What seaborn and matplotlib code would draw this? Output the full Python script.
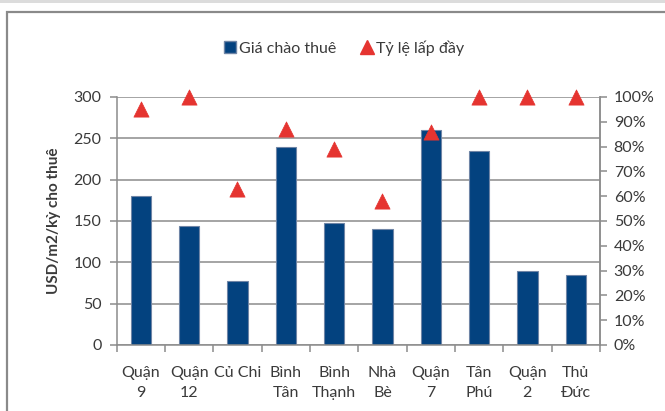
import matplotlib
matplotlib.use("Agg")
import matplotlib.pyplot as plt
from matplotlib.patches import Rectangle
from matplotlib.lines import Line2D
from matplotlib.ticker import FixedLocator, PercentFormatter
import seaborn as sns
import pandas as pd

# Districts, asking rent (USD/m2/period) and occupancy rate (%)
districts = ["Quận\n9", "Quận\n12", "Củ Chi", "Bình\nTân", "Bình\nThạnh",
             "Nhà\nBè", "Quận\n7", "Tân\nPhú", "Quận\n2", "Thủ\nĐức"]
asking_rent = [180, 144, 77, 240, 148, 140, 260, 235, 90, 85]
occupancy = [95, 100, 63, 87, 79, 58, 86, 100, 100, 100]

bar_label = "Giá chào thuê"
marker_label = "Tỷ lệ lấp đầy"
y_label = "USD/m2/kỳ cho thuê"

BAR_COLOR = "#03427F"
TRI_COLOR = "#E53430"
AXIS_GRAY = "#8C8C8C"
TEXT_COLOR = "#3A3A3A"
FS = 11.5

sns.set_theme(style="white")
plt.rcParams["font.family"] = ["Lato", "DejaVu Sans"]

df = pd.DataFrame({"district": districts, "rent": asking_rent, "occ": occupancy})

fig = plt.figure(figsize=(6.65, 4.11), dpi=100)
ax = fig.add_axes([0.1755, 0.1606, 0.902 - 0.1755, 0.764 - 0.1606])

sns.barplot(data=df, x="district", y="rent", order=districts, color=BAR_COLOR,
            saturation=1, width=0.42, edgecolor="#6F85A6", linewidth=0.8, ax=ax)

ax.set_ylim(0, 300)
ax.set_xlim(-0.5, len(districts) - 0.5)
ax.set_yticks(range(0, 301, 50))
ax.yaxis.grid(True, color=AXIS_GRAY, linewidth=1.1)
ax.set_axisbelow(True)
ax.set_xlabel("")
ax.set_ylabel(y_label, fontsize=11, fontweight="bold", color=TEXT_COLOR, labelpad=9)

for side in ("left", "bottom", "right"):
    ax.spines[side].set_visible(True)
    ax.spines[side].set_color(AXIS_GRAY)
    ax.spines[side].set_linewidth(1.1)
ax.spines["top"].set_visible(False)

ax.tick_params(axis="y", direction="out", length=5, width=1.1, color=AXIS_GRAY,
               labelsize=FS, labelcolor=TEXT_COLOR, pad=6, left=True)
ax.tick_params(axis="x", which="major", length=0, labelsize=FS,
               labelcolor=TEXT_COLOR, pad=15)
ax.xaxis.set_minor_locator(FixedLocator([i - 0.5 for i in range(len(districts) + 1)]))
ax.tick_params(axis="x", which="minor", direction="out", length=5, width=1.1,
               color=AXIS_GRAY, bottom=True)
for lbl in ax.get_xticklabels():
    lbl.set_linespacing(1.6)

# Occupancy on the secondary axis
ax2 = ax.twinx()
sns.scatterplot(data=df, x="district", y="occ", marker="^", s=120,
                color=TRI_COLOR, edgecolor=TRI_COLOR, linewidth=0.5,
                ax=ax2, zorder=5, clip_on=False)
ax2.set_ylim(0, 100)
ax2.set_yticks(range(0, 101, 10))
ax2.yaxis.set_major_formatter(PercentFormatter(decimals=0))
ax2.set_ylabel("")
ax2.set_xlim(-0.5, len(districts) - 0.5)
for side in ("left", "top", "bottom"):
    ax2.spines[side].set_visible(False)
ax2.spines["right"].set_color(AXIS_GRAY)
ax2.spines["right"].set_linewidth(1.1)
ax2.tick_params(axis="y", direction="out", length=5, width=1.1, color=AXIS_GRAY,
                labelsize=FS, labelcolor=TEXT_COLOR, pad=5, right=True)
ax2.grid(False)

handles = [
    Line2D([], [], marker="s", linestyle="none", markersize=9,
           markerfacecolor=BAR_COLOR, markeredgecolor="#6F85A6"),
    Line2D([], [], marker="^", linestyle="none", markersize=10,
           markerfacecolor=TRI_COLOR, markeredgecolor=TRI_COLOR),
]
fig.legend(handles, [bar_label, marker_label], loc="center",
           bbox_to_anchor=(0.516, 1 - 48 / 411), ncol=2, frameon=False,
           fontsize=FS, labelcolor=TEXT_COLOR, handletextpad=0.1,
           columnspacing=1.4, handlelength=1.0)

# Chart frame and top band
W, H = 665, 411
fig.add_artist(Rectangle((0, 1 - 3.5 / H), 1, 3.5 / H, transform=fig.transFigure,
                         facecolor="#DCDCDC", edgecolor="none"))
fig.add_artist(Rectangle((7 / W, -0.05), 1.1, 1 - 12.5 / H + 0.05,
                         transform=fig.transFigure, facecolor="none",
                         edgecolor="#8A8A8A", linewidth=1.6, clip_on=False))

fig.savefig("out.png", dpi=100)
